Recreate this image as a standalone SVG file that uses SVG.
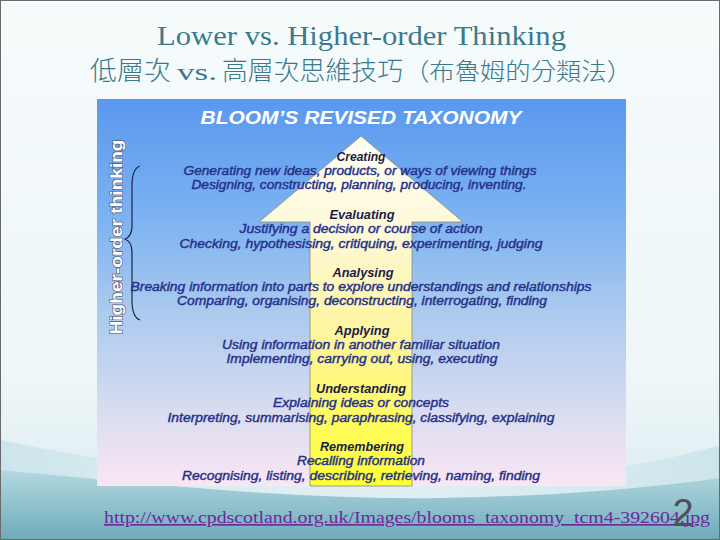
<svg xmlns="http://www.w3.org/2000/svg" width="720" height="540" viewBox="0 0 720 540">
<defs>
<linearGradient id="slideBg" x1="0" y1="0" x2="0" y2="1">
<stop offset="0" stop-color="#f6fbfc"/>
<stop offset="0.7" stop-color="#eef6f8"/>
<stop offset="1" stop-color="#d7eaef"/>
</linearGradient>
<linearGradient id="wave" x1="0" y1="0" x2="0" y2="1">
<stop offset="0" stop-color="#b4d8e0"/>
<stop offset="1" stop-color="#6eabbb"/>
</linearGradient>
<linearGradient id="wave2" x1="0" y1="0" x2="1" y2="0">
<stop offset="0" stop-color="#c9e3ea" stop-opacity="0.9"/>
<stop offset="0.5" stop-color="#e4f1f4" stop-opacity="0.3"/>
<stop offset="1" stop-color="#c9e3ea" stop-opacity="0.9"/>
</linearGradient>
<linearGradient id="imgBg" x1="0" y1="0" x2="0" y2="1">
<stop offset="0" stop-color="#5a98ee"/>
<stop offset="0.3" stop-color="#7cb2f2"/>
<stop offset="0.55" stop-color="#aacaee"/>
<stop offset="0.8" stop-color="#d8dcf0"/>
<stop offset="1" stop-color="#fae6f4"/>
</linearGradient>
<linearGradient id="arrowFill" x1="0" y1="0" x2="0" y2="1">
<stop offset="0" stop-color="#fffef4"/>
<stop offset="0.3" stop-color="#fdf8d4"/>
<stop offset="0.6" stop-color="#fdf596"/>
<stop offset="1" stop-color="#ffff30"/>
</linearGradient>
<style>
.title{font-family:"Liberation Serif","Noto Serif",serif;fill:#3b7a8c}
.cjk{font-family:"Noto Sans CJK TC","Noto Sans CJK SC",sans-serif;font-weight:300;fill:#3b7a8c}
.head{font-family:"Liberation Sans",Arial,sans-serif;font-size:12px;font-weight:bold;font-style:italic;fill:#1c1c48;text-anchor:middle}
.desc{font-family:"Liberation Sans",Arial,sans-serif;font-size:12px;font-style:italic;fill:#25318a;stroke:#25318a;stroke-width:0.4;text-anchor:middle}
</style>
</defs>

<rect x="0" y="0" width="720" height="540" fill="url(#slideBg)"/>
<path d="M0,440 C150,470 300,490 420,486 C540,482 640,468 720,445 L720,540 L0,540 Z" fill="url(#wave2)"/>
<path d="M0,470 C160,485 300,500 440,498 C560,496 650,488 720,478 L720,540 L0,540 Z" fill="url(#wave)"/>
<rect x="0.5" y="0.5" width="719" height="539" fill="none" stroke="#6a6a6a" stroke-width="1"/>

<g id="title">
<text class="title" x="157" y="45" font-size="28" textLength="409" lengthAdjust="spacingAndGlyphs">Lower vs. Higher-order Thinking</text>
<text class="cjk" x="90" y="80" font-size="26" textLength="81" lengthAdjust="spacingAndGlyphs">低層次</text>
<text class="title" x="177" y="80" font-size="24" textLength="40" lengthAdjust="spacingAndGlyphs">vs.</text>
<text class="cjk" x="222" y="80" font-size="26" textLength="181" lengthAdjust="spacingAndGlyphs">高層次思維技巧</text>
<text class="cjk" x="404" y="80" font-size="24" textLength="228" lengthAdjust="spacingAndGlyphs">（布魯姆的分類法）</text>
</g>

<g id="taxonomy-image">
<rect x="97" y="99" width="529" height="387" fill="url(#imgBg)"/>
<text x="361" y="124" font-family="Liberation Sans,Arial,sans-serif" font-size="18" font-weight="bold" font-style="italic" fill="#ffffff" text-anchor="middle" textLength="321" lengthAdjust="spacingAndGlyphs">BLOOM’S REVISED TAXONOMY</text>
</g>

<g id="arrow">
<path d="M361,136 L463,222 L412,222 L412,486 L310,486 L310,222 L259,222 Z" fill="url(#arrowFill)" stroke="#8a8a70" stroke-width="0.8"/>
</g>

<g id="higher-order-label">
<text transform="translate(122,237) rotate(-90)" font-family="Liberation Sans,Arial,sans-serif" font-size="16" font-weight="bold" fill="#ffffff" stroke="#4a5878" stroke-width="1.2" paint-order="stroke" text-anchor="middle" textLength="195" lengthAdjust="spacingAndGlyphs">Higher-order thinking</text>
<path d="M140,166 C134,168 132,176 132,186 L132,226 C132,233 130,237 125,239 C130,241 132,245 132,252 L132,300 C132,310 134,318 140,320" fill="none" stroke="#1c2448" stroke-width="1.2"/>
</g>

<g id="creating">
<text class="head" x="361" y="161" textLength="49" lengthAdjust="spacingAndGlyphs">Creating</text>
<text class="desc" x="360" y="175" textLength="353" lengthAdjust="spacingAndGlyphs">Generating new ideas, products, or ways of viewing things</text>
<text class="desc" x="359" y="189" textLength="335" lengthAdjust="spacingAndGlyphs">Designing, constructing, planning, producing, inventing.</text>
</g>
<g id="evaluating">
<text class="head" x="362" y="219" textLength="65" lengthAdjust="spacingAndGlyphs">Evaluating</text>
<text class="desc" x="361" y="233" textLength="243" lengthAdjust="spacingAndGlyphs">Justifying a decision or course of action</text>
<text class="desc" x="361" y="248" textLength="363" lengthAdjust="spacingAndGlyphs">Checking, hypothesising, critiquing, experimenting, judging</text>
</g>
<g id="analysing">
<text class="head" x="363" y="277" textLength="61" lengthAdjust="spacingAndGlyphs">Analysing</text>
<text class="desc" x="361" y="291" textLength="461" lengthAdjust="spacingAndGlyphs">Breaking information into parts to explore understandings and relationships</text>
<text class="desc" x="362" y="305" textLength="370" lengthAdjust="spacingAndGlyphs">Comparing, organising, deconstructing, interrogating, finding</text>
</g>
<g id="applying">
<text class="head" x="362" y="335" textLength="55" lengthAdjust="spacingAndGlyphs">Applying</text>
<text class="desc" x="361" y="349" textLength="278" lengthAdjust="spacingAndGlyphs">Using information in another familiar situation</text>
<text class="desc" x="362" y="363" textLength="271" lengthAdjust="spacingAndGlyphs">Implementing, carrying out, using, executing</text>
</g>
<g id="understanding">
<text class="head" x="361" y="393" textLength="90" lengthAdjust="spacingAndGlyphs">Understanding</text>
<text class="desc" x="361" y="407" textLength="176" lengthAdjust="spacingAndGlyphs">Explaining ideas or concepts</text>
<text class="desc" x="361" y="422" textLength="387" lengthAdjust="spacingAndGlyphs">Interpreting, summarising, paraphrasing, classifying, explaining</text>
</g>
<g id="remembering">
<text class="head" x="362" y="451" textLength="84" lengthAdjust="spacingAndGlyphs">Remembering</text>
<text class="desc" x="361" y="465" textLength="128" lengthAdjust="spacingAndGlyphs">Recalling information</text>
<text class="desc" x="361" y="480" textLength="358" lengthAdjust="spacingAndGlyphs">Recognising, listing, describing, retrieving, naming, finding</text>
</g>

<g id="footer">
<text x="104" y="523" font-family="Liberation Serif,serif" font-size="16.5" fill="#6a2a9a" text-decoration="underline" textLength="606" lengthAdjust="spacingAndGlyphs">http://www.cpdscotland.org.uk/Images/blooms_taxonomy_tcm4-392604.jpg</text>
<text x="683" y="526" font-family="Liberation Sans,Arial,sans-serif" font-size="38" fill="#505050" text-anchor="middle">2</text>
</g>
</svg>
